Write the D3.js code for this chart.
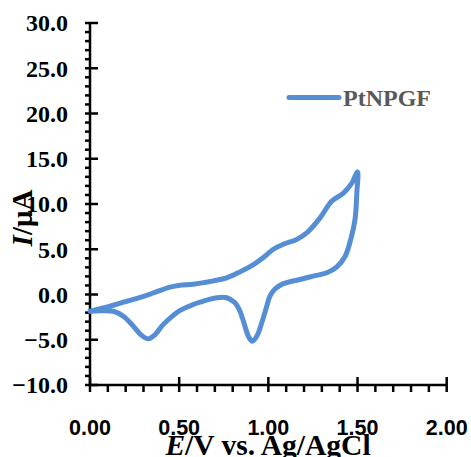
<!DOCTYPE html>
<html lang="en">
<head>
<meta charset="UTF-8">
<script src="https://d3js.org/d3.v7.min.js"></script>
<style>
  body { margin: 0; padding: 0; background: #fff; }
  svg { display: block; }
  .serif { font-family: "Liberation Serif", "Times New Roman", serif; font-weight: bold; }
  .sans { font-family: "Liberation Sans", Arial, sans-serif; font-weight: bold; }
</style>
</head>
<body>
<svg id="chart" width="471" height="457"></svg>
<script>
// Cyclic voltammogram, PtNPGF electrode
const seriesName = 'PtNPGF';

// anodic (forward) scan, E in V, I in µA
const forwardE = [0.000, 0.112, 0.187, 0.243, 0.346, 0.449, 0.505, 0.579, 0.692, 0.767, 0.841, 0.916, 0.972, 1.028, 1.084, 1.159, 1.215, 1.290, 1.355, 1.421, 1.468, 1.500];
const forwardI = [-1.84, -1.29, -0.85, -0.55, 0.11, 0.81, 1.03, 1.14, 1.51, 1.84, 2.50, 3.30, 4.10, 5.00, 5.56, 6.08, 6.80, 8.47, 10.3, 11.2, 12.3, 13.55];

// cathodic (reverse) scan
const reverseE = [1.496, 1.486, 1.462, 1.430, 1.384, 1.328, 1.252, 1.177, 1.084, 1.037, 1.009, 0.991, 0.963, 0.935, 0.910, 0.888, 0.863, 0.841, 0.813, 0.767, 0.711, 0.617, 0.561, 0.505, 0.467, 0.411, 0.364, 0.327, 0.290, 0.243, 0.187, 0.131, 0.060, 0.000];
const reverseI = [11.2, 8.3, 6.1, 4.2, 3.06, 2.4, 2.03, 1.66, 1.2, 0.6, -0.19, -1.29, -3.13, -4.61, -5.16, -4.61, -3.13, -1.85, -0.92, -0.36, -0.37, -0.85, -1.25, -1.75, -2.3, -3.3, -4.45, -4.9, -4.53, -3.5, -2.4, -1.85, -1.8, -1.84];

const xTicks = [0, 0.5, 1.0, 1.5, 2.0];
const yTicks = [-10, -5, 0, 5, 10, 15, 20, 25, 30];

const svg = d3.select('#chart');
const x = d3.scaleLinear().domain([0, 2]).range([90, 446.7]);
const y = d3.scaleLinear().domain([-10, 30]).range([385, 23]);

const points = forwardE.map((e, i) => [e, forwardI[i]])
  .concat(reverseE.map((e, i) => [e, reverseI[i]]));

// axes
const axes = svg.append('g').attr('stroke', '#000').attr('stroke-width', 2.5);
axes.append('line').attr('x1', x(0)).attr('x2', x(0)).attr('y1', y(30)).attr('y2', y(-10));
axes.append('line').attr('x1', x(0)).attr('x2', x(2)).attr('y1', y(-10)).attr('y2', y(-10));

// y minor ticks (every 1), major ticks cross the axis
d3.range(-10, 30.01, 1).forEach(v => {
  const major = Math.abs(v % 5) < 1e-9;
  axes.append('line')
    .attr('x1', x(0) - 5).attr('x2', major ? x(0) + 8 : x(0))
    .attr('y1', y(v)).attr('y2', y(v));
});
// x minor ticks (every 0.1)
d3.range(0, 2.001, 0.1).forEach(v => {
  const major = Math.abs(Math.round(v * 10) % 5) === 0;
  axes.append('line')
    .attr('x1', x(v)).attr('x2', x(v))
    .attr('y1', major ? y(-10) - 8 : y(-10)).attr('y2', y(-10) + 7);
});

svg.append('g').selectAll('text').data(yTicks).join('text')
  .attr('class', 'serif')
  .attr('x', 68).attr('y', d => y(d)).attr('dy', '0.35em')
  .attr('text-anchor', 'end').attr('font-size', 24)
  .text(d => d3.format('.1f')(d));

svg.append('g').selectAll('text').data(xTicks).join('text')
  .attr('class', 'sans')
  .attr('x', d => x(d)).attr('y', 435)
  .attr('text-anchor', 'middle').attr('font-size', 21.5)
  .text(d => d3.format('.2f')(d));

// axis titles
const xt = svg.append('text').attr('class', 'serif')
  .attr('x', 268).attr('y', 455).attr('text-anchor', 'middle').attr('font-size', 29.5);
xt.append('tspan').attr('font-style', 'italic').text('E');
xt.append('tspan').text('/V vs. Ag/AgCl');

const yt = svg.append('text').attr('class', 'serif')
  .attr('transform', 'translate(32,218) rotate(-90)')
  .attr('text-anchor', 'middle').attr('font-size', 29);
yt.append('tspan').attr('font-style', 'italic').text('I');
yt.append('tspan').text('/μA');

// curve
const line = d3.line()
  .x(d => x(d[0])).y(d => y(d[1]))
  .curve(d3.curveCatmullRom.alpha(0.5));

svg.append('path').datum(points)
  .attr('d', line)
  .attr('fill', 'none')
  .attr('stroke', '#558ED5')
  .attr('stroke-width', 5)
  .attr('stroke-linejoin', 'round')
  .attr('stroke-linecap', 'round');

// legend
svg.append('line').attr('x1', 289).attr('x2', 339).attr('y1', 97.5).attr('y2', 97.5)
  .attr('stroke', '#558ED5').attr('stroke-width', 5).attr('stroke-linecap', 'round');
svg.append('text').attr('class', 'serif')
  .attr('x', 343).attr('y', 106).attr('font-size', 24).attr('fill', '#595959')
  .text(seriesName);
</script>
</body>
</html>
